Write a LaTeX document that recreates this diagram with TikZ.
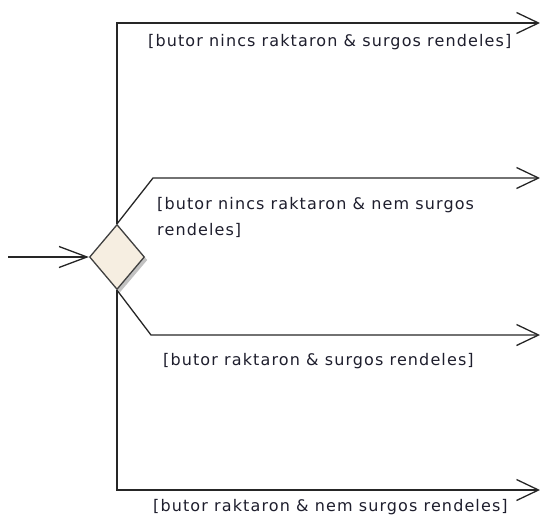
\documentclass[tikz,border=0pt]{standalone}
\usepackage{fontspec}
\setmainfont{DejaVu Sans}
\newfontfamily\guardfont[LetterSpace=7]{DejaVu Sans}
\usetikzlibrary{shapes.geometric, arrows.meta, positioning, shadows}
\definecolor{decfill}{RGB}{246,238,225}
\definecolor{decline}{RGB}{64,64,64}
\definecolor{guardtext}{RGB}{30,30,45}

\begin{document}
\begin{tikzpicture}[x=1pt, y=-1pt,
	flow/.style={draw=black!85, line width=1.3pt, -{Straight Barb[length=22pt, width=21pt, line width=1.3pt]}},
	guard/.style={font=\guardfont\fontsize{16}{26}\selectfont, text=guardtext, anchor=west, inner sep=0pt, align=left}]
	\useasboundingbox (0,0) rectangle (540,517);
	\node[draw=decline, line width=1.3pt, diamond, fill=decfill, minimum width=55pt, minimum height=65pt, inner sep=0pt,
		drop shadow={shadow xshift=3pt, shadow yshift=-3pt, fill=black!40, opacity=0.6}] (dec) at (117,257) {};
	\coordinate (start) at (8,257);
	\coordinate (out1) at (540,23);
	\coordinate (out2) at (540,178);
	\coordinate (out3) at (540,335);
	\coordinate (out4) at (540,490);
	\draw[flow, -{Straight Barb[length=28pt, width=21pt, line width=1.3pt]}] (start) -- (dec.west);
	\draw[flow] (dec.north) |- (out1);
	\draw[flow] (dec.north) -- (153,178) -- (out2);
	\draw[flow] (dec.south) -- (151,335) -- (out3);
	\draw[flow] (dec.south) |- (out4);
	\node[guard] (g1) at (148,42) {[butor nincs raktaron \& surgos rendeles]};
	\node[guard] (g2) at (157,217) {[butor nincs raktaron \& nem surgos\\rendeles]};
	\node[guard] (g3) at (163,361) {[butor raktaron \& surgos rendeles]};
	\node[guard] (g4) at (153,507) {[butor raktaron \& nem surgos rendeles]};
\end{tikzpicture}
\end{document}
